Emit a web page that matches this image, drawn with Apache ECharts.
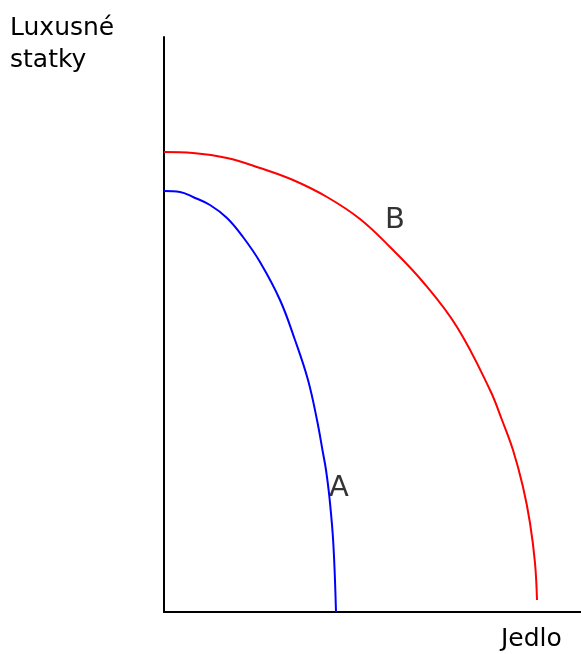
<!DOCTYPE html>
<html>
<head>
<meta charset="utf-8">
<script src="https://cdn.jsdelivr.net/npm/echarts@6/dist/echarts.min.js"></script>
<style>
html,body{margin:0;padding:0;background:#fff;}
#chart{width:581px;height:654px;}
</style>
</head>
<body>
<div id="chart"></div>
<script>
// Curve A (blue): [Jedlo, Luxusné statky]
const curveA = [
  [0, 421], [16, 420], [29, 415], [46, 407], [63, 394], [79, 375], [96, 350],
  [116, 312], [131, 272], [144, 232], [153, 192], [159, 159], [162, 142],
  [165.5, 114], [169.3, 69], [172, 0]
];
// Curve B (red)
const curveB = [
  [0, 460], [29, 459], [63, 454], [96, 444], [129, 432], [163, 415], [196, 393],
  [226, 365], [259, 330], [293, 285], [326, 222], [338, 192], [349, 162],
  [359, 125], [366, 89], [371, 49], [373, 12]
];
const curveLabels = ['A', 'B'];
const labelPoints = [[175, 124], [231, 392]];
const xName = 'Jedlo';
const yName = 'Luxusné\nstatky';
const xMax = 417;
const yMax = 575;

const font = '"DejaVu Sans", sans-serif';
const chart = echarts.init(document.getElementById('chart'));
chart.setOption({
  animation: false,
  backgroundColor: '#fff',
  grid: { left: 164, top: 37, right: 0, bottom: 42, containLabel: false },
  xAxis: {
    type: 'value', min: 0, max: xMax,
    axisLine: { show: true, onZero: false, lineStyle: { color: '#000', width: 2 } },
    axisTick: { show: false }, axisLabel: { show: false }, splitLine: { show: false }
  },
  yAxis: {
    type: 'value', min: 0, max: yMax,
    axisLine: { show: true, onZero: false, lineStyle: { color: '#000', width: 2 } },
    axisTick: { show: false }, axisLabel: { show: false }, splitLine: { show: false }
  },
  graphic: [
    { type: 'text', left: 10, top: 12, style: { text: yName, font: '25px ' + font, fill: '#000', lineHeight: 32 } },
    { type: 'text', left: 501, top: 627, style: { text: xName, font: '25px ' + font, fill: '#000' } }
  ],
  series: [
    { type: 'line', data: curveA, smooth: 0.4, showSymbol: false, lineStyle: { color: '#0000ff', width: 2 } },
    { type: 'line', data: curveB, smooth: 0.4, showSymbol: false, lineStyle: { color: '#ff0000', width: 2 } },
    {
      type: 'scatter', symbolSize: 0, itemStyle: { color: '#000' },
      data: labelPoints.map((p, i) => ({ value: p, name: curveLabels[i] })),
      label: { show: true, position: 'inside', formatter: p => p.name, fontFamily: font, fontSize: 29, color: '#000', textBorderWidth: 0 }
    }
  ]
});
</script>
</body>
</html>
